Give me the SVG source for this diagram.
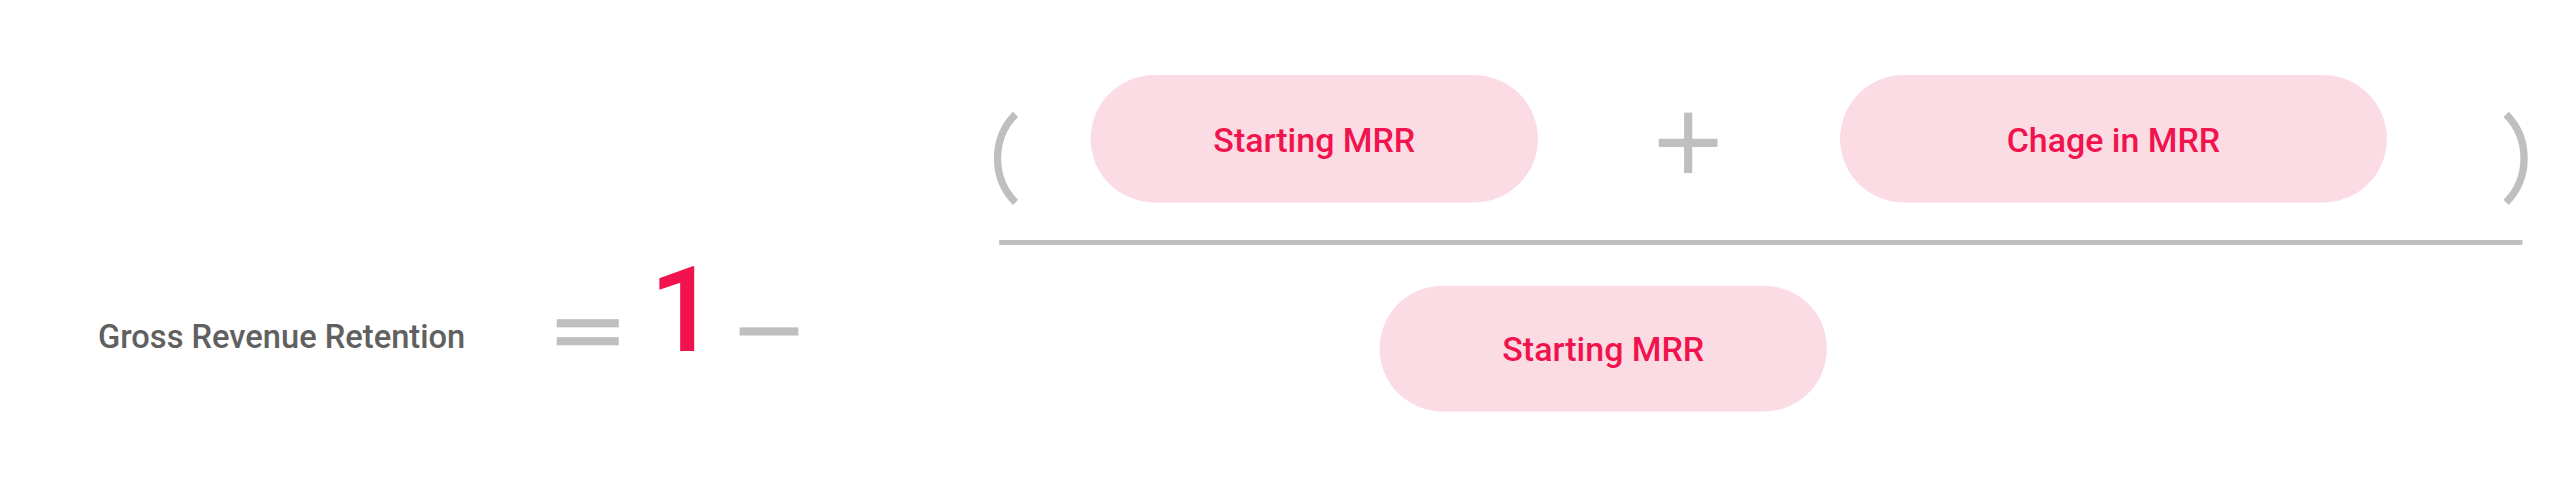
<svg xmlns="http://www.w3.org/2000/svg" width="2560" height="491" viewBox="0 0 2560 491">
<style>
.pill{fill:#fcdce4}
.pt{font-family:Roboto,"Liberation Sans",sans-serif;font-weight:500;font-size:20.8px;fill:#f0134d;text-anchor:middle}
.g{fill:#bfbfbf}
.gl{stroke:#bfbfbf;stroke-width:4.5;fill:none}
</style>
<rect width="2560" height="491" fill="#fff"/>
<g transform="scale(1.632653)">
<g id="label"><text x="60" y="213" font-family="Roboto,'Liberation Sans',sans-serif" font-weight="500" font-size="20" fill="#606060">Gross Revenue Retention</text></g>
<g id="equals"><rect class="g" x="341" y="195.5" width="38" height="5"/><rect class="g" x="341" y="206.5" width="38" height="5"/></g>
<g id="one"><text x="418.5" y="215" font-family="Roboto,'Liberation Sans',sans-serif" font-weight="500" font-size="73" fill="#f0134d" text-anchor="middle">1</text></g>
<g id="minus"><rect class="g" x="453" y="200.5" width="36" height="5"/></g>
<g id="parens"><path class="gl" d="M622,70 Q611,81 611,97 Q611,113 622,124"/><path class="gl" d="M1535,70 Q1546,81 1546,97 Q1546,113 1535,124"/></g>
<g id="starting-mrr"><rect class="pill" x="668" y="46" width="274" height="78" rx="39"/><text class="pt" x="805" y="93">Starting MRR</text></g>
<g id="plus"><rect class="g" x="1031.5" y="69" width="5" height="37"/><rect class="g" x="1016" y="85" width="36" height="5"/></g>
<g id="change-mrr"><rect class="pill" x="1127" y="46" width="335" height="78" rx="39"/><text class="pt" x="1294.5" y="93">Chage in MRR</text></g>
<g id="fraction"><rect class="g" x="612" y="147" width="933" height="3"/></g>
<g id="denominator"><rect class="pill" x="845" y="175" width="274" height="77" rx="38.5"/><text class="pt" x="982" y="221">Starting MRR</text></g>
</g>
</svg>
